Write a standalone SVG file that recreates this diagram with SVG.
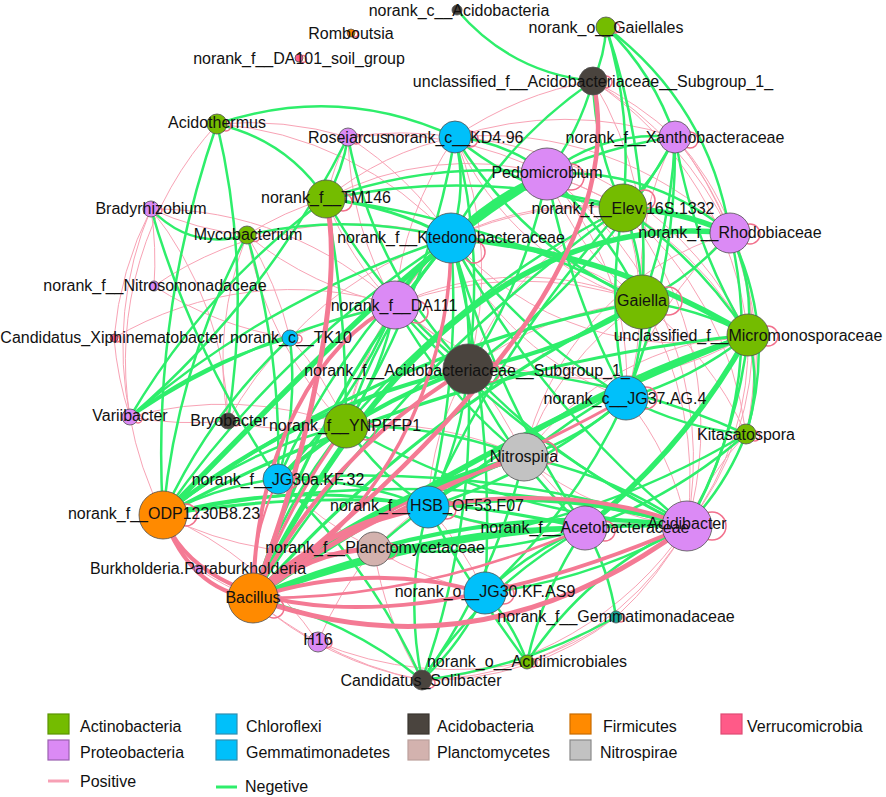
<svg xmlns="http://www.w3.org/2000/svg" width="886" height="797" viewBox="0 0 886 797">
<style>
.edges path{fill:none;stroke-linecap:round}
.p{stroke:#F8A3B5;stroke-width:1}
.g{stroke:#2EEE6B;stroke-width:2.5}
.g3{stroke:#2EEE6B;stroke-width:3.2}
.g4{stroke:#2EEE6B;stroke-width:4.2}
.g5{stroke:#2EEE6B;stroke-width:5.5}
.pt{stroke:#F47A94}
.loops circle{fill:none;stroke:#F2708C;stroke-width:1.5}
.node circle{stroke:#505050;stroke-width:0.8}
text{font-family:"Liberation Sans",Arial,sans-serif;font-size:16px;fill:#111}
.node text{text-anchor:middle}
.act{fill:#74BC00}.pro{fill:#DB8AF5}.chl{fill:#00C0FA}.aci{fill:#4A443E}.pla{fill:#D3B2AE}.fir{fill:#FF8A00}.nit{fill:#C2C2C2}.ver{fill:#FF5A88}.gem{fill:#18A99A}
.leg rect{stroke-width:1.2}
</style>
<g id="connectors" class="edges">
<g id="thin-positive">
<path class="p" d="M217,124 A350,350 0 0,0 130,417"/>
<path class="p" d="M151,209 A350,350 0 0,1 154,286"/>
<path class="p" d="M151,209 A350,350 0 0,0 114,338"/>
<path class="p" d="M151,209 A350,350 0 0,0 130,417"/>
<path class="p" d="M151,209 A350,350 0 0,1 228,421"/>
<path class="p" d="M154,286 A350,350 0 0,1 451,238"/>
<path class="p" d="M154,286 A350,350 0 0,0 290,338"/>
<path class="p" d="M114,338 A350,350 0 0,0 130,417"/>
<path class="p" d="M114,338 A350,350 0 0,1 395,305"/>
<path class="p" d="M130,417 A350,350 0 0,0 228,421"/>
<path class="p" d="M130,417 A350,350 0 0,0 163,515"/>
<path class="p" d="M228,421 A350,350 0 0,1 290,338"/>
<path class="p" d="M228,421 A350,350 0 0,1 247,235"/>
<path class="p" d="M247,235 A350,350 0 0,0 395,305"/>
<path class="p" d="M247,235 A350,350 0 0,1 290,338"/>
<path class="p" d="M290,338 A350,350 0 0,1 395,305"/>
<path class="p" d="M290,338 A350,350 0 0,1 451,238"/>
<path class="p" d="M348,137 A350,350 0 0,1 455,137"/>
<path class="p" d="M348,137 A350,350 0 0,1 451,238"/>
<path class="p" d="M348,137 A350,350 0 0,1 547,174"/>
<path class="p" d="M455,137 A350,350 0 0,0 395,305"/>
<path class="p" d="M455,137 A350,350 0 0,1 675,137"/>
<path class="p" d="M455,137 A350,350 0 0,1 593,81"/>
<path class="p" d="M455,137 A350,350 0 0,1 730,233"/>
<path class="p" d="M455,137 A350,350 0 0,1 748,335"/>
<path class="p" d="M593,81 A350,350 0 0,1 675,137"/>
<path class="p" d="M593,81 A350,350 0 0,1 730,233"/>
<path class="p" d="M593,81 A350,350 0 0,1 642,302"/>
<path class="p" d="M593,81 A350,350 0 0,1 748,335"/>
<path class="p" d="M547,174 A350,350 0 0,1 623,208"/>
<path class="p" d="M547,174 A350,350 0 0,0 395,305"/>
<path class="p" d="M547,174 A350,350 0 0,1 748,335"/>
<path class="p" d="M547,174 A350,350 0 0,1 687,526"/>
<path class="p" d="M623,208 A350,350 0 0,0 451,238"/>
<path class="p" d="M623,208 A350,350 0 0,1 746,434"/>
<path class="p" d="M623,208 A350,350 0 0,1 687,526"/>
<path class="p" d="M675,137 A350,350 0 0,1 730,233"/>
<path class="p" d="M675,137 A350,350 0 0,1 746,434"/>
<path class="p" d="M730,233 A300,300 0 0,1 746,434"/>
<path class="p" d="M730,233 A350,350 0 0,0 626,398"/>
<path class="p" d="M642,302 A350,350 0 0,1 746,434"/>
<path class="p" d="M642,302 A350,350 0 0,1 687,526"/>
<path class="p" d="M642,302 A350,350 0 0,0 395,305"/>
<path class="p" d="M748,335 A300,300 0 0,1 687,526"/>
<path class="p" d="M451,238 A350,350 0 0,0 395,305"/>
<path class="p" d="M451,238 A350,350 0 0,1 642,302"/>
<path class="p" d="M451,238 A350,350 0 0,0 346,426"/>
<path class="p" d="M395,305 A350,350 0 0,1 468,369"/>
<path class="p" d="M468,369 A350,350 0 0,1 642,302"/>
<path class="p" d="M468,369 A350,350 0 0,1 524,457"/>
<path class="p" d="M346,426 A350,350 0 0,0 278,479"/>
<path class="p" d="M346,426 A350,350 0 0,1 524,457"/>
<path class="p" d="M524,457 A350,350 0 0,1 585,528"/>
<path class="p" d="M524,457 A350,350 0 0,0 374,549"/>
<path class="p" d="M428,507 A350,350 0 0,1 485,593"/>
<path class="p" d="M585,528 A350,350 0 0,1 687,526"/>
<path class="p" d="M687,526 A350,350 0 0,1 616,617"/>
<path class="p" d="M616,617 A350,350 0 0,1 527,662"/>
<path class="p" d="M527,662 A350,350 0 0,1 422,680"/>
<path class="p" d="M422,680 A350,350 0 0,1 318,642"/>
<path class="p" d="M318,642 A350,350 0 0,1 253,598"/>
<path class="p" d="M318,642 A350,350 0 0,1 374,549"/>
<path class="p" d="M318,642 A350,350 0 0,0 527,662"/>
<path class="p" d="M616,617 A300,300 0 0,1 422,680"/>
<path class="p" d="M374,549 A350,350 0 0,0 485,593"/>
<path class="p" d="M278,479 A350,350 0 0,0 374,549"/>
<path class="p" d="M198,569 A350,350 0 0,0 253,598"/>
<path class="p" d="M163,515 A350,350 0 0,0 374,549"/>
<path class="p" d="M130,417 A350,350 0 0,1 346,426"/>
<path class="p" d="M151,209 A350,350 0 0,1 395,305"/>
<path class="p" d="M217,124 A350,350 0 0,1 451,238"/>
<path class="p" d="M247,235 A350,350 0 0,0 346,426"/>
<path class="p" d="M675,137 A300,300 0 0,1 687,526"/>
<path class="p" d="M527,662 A300,300 0 0,0 687,526"/>
<path class="p" d="M422,680 A350,350 0 0,0 687,526"/>
<path class="p" d="M253,598 A350,350 0 0,0 422,680"/>
<path class="p" d="M374,549 A350,350 0 0,0 422,680"/>
<path class="p" d="M455,137 A350,350 0 0,1 468,369"/>
<path class="p" d="M547,174 A350,350 0 0,0 451,238"/>
<path class="p" d="M348,137 A350,350 0 0,0 395,305"/>
<path class="p" d="M163,515 A350,350 0 0,1 318,642"/>
<path class="p" d="M217,124 A350,350 0 0,1 348,137"/>
<path class="p" d="M451,238 A300,300 0 0,1 623,208"/>
<path class="p" d="M451,238 A300,300 0 0,0 748,335"/>
<path class="p" d="M451,238 A300,300 0 0,0 626,398"/>
<path class="p" d="M395,305 A300,300 0 0,1 642,302"/>
<path class="p" d="M395,305 A300,300 0 0,0 748,335"/>
<path class="p" d="M326,199 A300,300 0 0,0 395,305"/>
<path class="p" d="M326,199 A300,300 0 0,1 547,174"/>
<path class="p" d="M326,199 A300,300 0 0,1 455,137"/>
<path class="p" d="M455,137 A300,300 0 0,0 642,302"/>
<path class="p" d="M547,174 A300,300 0 0,0 642,302"/>
<path class="p" d="M547,174 A300,300 0 0,1 626,398"/>
<path class="p" d="M623,208 A300,300 0 0,0 468,369"/>
<path class="p" d="M623,208 A300,300 0 0,1 626,398"/>
<path class="p" d="M675,137 A300,300 0 0,0 642,302"/>
<path class="p" d="M730,233 A300,300 0 0,0 524,457"/>
<path class="p" d="M642,302 A300,300 0 0,0 524,457"/>
<path class="p" d="M748,335 A300,300 0 0,0 524,457"/>
<path class="p" d="M626,398 A300,300 0 0,1 687,526"/>
<path class="p" d="M746,434 A300,300 0 0,0 687,526"/>
<path class="p" d="M524,457 A300,300 0 0,0 687,526"/>
<path class="p" d="M428,507 A300,300 0 0,0 585,528"/>
<path class="p" d="M468,369 A300,300 0 0,0 428,507"/>
<path class="p" d="M346,426 A300,300 0 0,1 395,305"/>
<path class="p" d="M346,426 A300,300 0 0,0 290,338"/>
<path class="p" d="M228,421 A300,300 0 0,0 346,426"/>
<path class="p" d="M247,235 A300,300 0 0,1 326,199"/>
<path class="p" d="M348,137 A300,300 0 0,0 326,199"/>
<path class="p" d="M151,209 A300,300 0 0,0 247,235"/>
</g>
<g id="negative">
<path class="g" d="M457,10 Q511,73 593,81"/>
<path class="g" d="M606,27 Q605,55 593,81"/>
<path class="g" d="M606,27 Q651,161 642,302"/>
<path class="g" d="M606,27 Q654,74 675,137"/>
<path class="g" d="M606,27 Q709,105 730,233"/>
<path class="g" d="M606,27 Q633,116 623,208"/>
<path class="g" d="M593,81 Q595,148 623,208"/>
<path class="g" d="M593,81 Q579,132 547,174"/>
<path class="g" d="M593,81 Q503,143 451,238"/>
<path class="g" d="M675,137 Q604,130 547,174"/>
<path class="g" d="M675,137 Q548,154 451,238"/>
<path class="g" d="M675,137 Q656,178 623,208"/>
<path class="g" d="M675,137 Q672,222 642,302"/>
<path class="g" d="M675,137 Q677,272 626,398"/>
<path class="g" d="M675,137 Q599,278 468,369"/>
<path class="g" d="M675,137 Q692,243 748,335"/>
<path class="g" d="M455,137 Q507,142 547,174"/>
<path class="g" d="M455,137 Q528,198 623,208"/>
<path class="g" d="M455,137 Q468,188 451,238"/>
<path class="g" d="M455,137 Q524,248 642,302"/>
<path class="g" d="M455,137 Q485,252 468,369"/>
<path class="g" d="M455,137 Q429,292 346,426"/>
<path class="g" d="M547,174 Q650,167 730,233"/>
<path class="g5" d="M163,515 C260,420 400,260 547,174"/>
<path class="g5" d="M623,208 Q679,210 730,233"/>
<path class="g5" d="M253,598 Q448,204 730,233"/>
<path class="g" d="M730,233 Q754,281 748,335"/>
<path class="g" d="M730,233 Q693,276 642,302"/>
<path class="g" d="M730,233 Q778,330 746,434"/>
<path class="g" d="M730,233 Q767,388 687,526"/>
<path class="g" d="M642,302 Q698,308 748,335"/>
<path class="g" d="M642,302 Q644,352 626,398"/>
<path class="g4" d="M642,302 Q562,353 468,369"/>
<path class="g" d="M748,335 Q762,385 746,434"/>
<path class="g" d="M748,335 Q693,379 626,398"/>
<path class="g5" d="M748,335 Q686,448 585,528"/>
<path class="g" d="M748,335 Q737,437 687,526"/>
<path class="g5" d="M253,598 Q485,437 748,335"/>
<path class="g3" d="M253,598 Q418,411 642,302"/>
<path class="g5" d="M253,598 Q412,530 585,528"/>
<path class="g5" d="M253,598 Q372,495 524,457"/>
<path class="g3" d="M253,598 Q316,398 451,238"/>
<path class="g" d="M253,598 Q282,503 346,426"/>
<path class="g3" d="M163,515 Q295,479 428,507"/>
<path class="g" d="M163,515 Q217,486 278,479"/>
<path class="g" d="M163,515 Q244,449 346,426"/>
<path class="g4" d="M163,515 Q298,405 468,369"/>
<path class="g3" d="M163,515 Q377,351 642,302"/>
<path class="g3" d="M163,515 Q375,479 585,528"/>
<path class="g" d="M163,515 Q209,414 290,338"/>
<path class="g" d="M163,515 Q151,314 217,124"/>
<path class="g" d="M163,515 Q279,348 451,238"/>
<path class="g" d="M247,235 Q177,367 163,515"/>
<path class="g" d="M247,235 Q282,355 278,479"/>
<path class="g" d="M247,235 Q349,212 451,238"/>
<path class="g" d="M151,209 Q193,354 278,479"/>
<path class="g" d="M130,417 Q251,335 395,305"/>
<path class="g" d="M130,417 Q202,362 290,338"/>
<path class="g" d="M130,417 Q273,295 451,238"/>
<path class="g" d="M130,417 Q206,288 326,199"/>
<path class="g" d="M290,338 Q298,410 278,479"/>
<path class="g" d="M348,137 Q343,170 326,199"/>
<path class="g" d="M348,137 Q267,299 130,417"/>
<path class="g" d="M348,137 Q373,271 468,369"/>
<path class="g" d="M217,124 Q287,140 326,199"/>
<path class="g" d="M217,124 Q339,83 455,137"/>
<path class="g" d="M217,124 Q252,271 228,421"/>
<path class="g" d="M151,209 Q191,251 247,235"/>
<path class="g3" d="M326,199 Q392,206 451,238"/>
<path class="g" d="M326,199 Q476,168 623,208"/>
<path class="g" d="M326,199 Q434,160 547,174"/>
<path class="g" d="M326,199 Q380,298 468,369"/>
<path class="g" d="M326,199 Q347,312 346,426"/>
<path class="g" d="M326,199 Q494,219 642,302"/>
<path class="g" d="M395,305 Q416,266 451,238"/>
<path class="g" d="M395,305 Q383,370 346,426"/>
<path class="g" d="M395,305 Q444,394 524,457"/>
<path class="g" d="M395,305 Q519,445 687,526"/>
<path class="g" d="M395,305 Q354,404 278,479"/>
<path class="g" d="M451,238 Q473,302 468,369"/>
<path class="g" d="M451,238 Q461,374 428,507"/>
<path class="g" d="M451,238 Q540,406 687,526"/>
<path class="g" d="M451,238 Q523,336 626,398"/>
<path class="g5" d="M451,238 Q611,251 748,335"/>
<path class="g" d="M451,238 Q495,394 585,528"/>
<path class="g" d="M451,238 Q496,413 485,593"/>
<path class="g" d="M468,369 Q511,460 585,528"/>
<path class="g" d="M468,369 Q562,469 687,526"/>
<path class="g" d="M468,369 Q462,442 428,507"/>
<path class="g" d="M468,369 Q614,374 746,434"/>
<path class="g4" d="M278,479 Q362,405 468,369"/>
<path class="g" d="M468,369 Q476,529 422,680"/>
<path class="g" d="M626,398 Q581,438 524,457"/>
<path class="g" d="M626,398 Q538,472 428,507"/>
<path class="g" d="M626,398 Q682,428 746,434"/>
<path class="g" d="M626,398 Q575,510 485,593"/>
<path class="g" d="M746,434 Q675,497 585,528"/>
<path class="g" d="M746,434 Q726,486 687,526"/>
<path class="g" d="M746,434 Q574,536 374,549"/>
<path class="g" d="M346,426 Q380,322 451,238"/>
<path class="g" d="M346,426 Q463,289 623,208"/>
<path class="g" d="M346,426 Q505,517 687,526"/>
<path class="g" d="M346,426 Q438,424 524,457"/>
<path class="g" d="M346,426 Q379,475 428,507"/>
<path class="g5" d="M428,507 Q560,485 687,526"/>
<path class="g" d="M428,507 Q571,389 748,335"/>
<path class="g" d="M428,507 Q502,342 623,208"/>
<path class="g" d="M428,507 Q471,472 524,457"/>
<path class="g" d="M428,507 Q504,536 585,528"/>
<path class="g4" d="M374,549 Q528,506 687,526"/>
<path class="g" d="M374,549 Q540,405 748,335"/>
<path class="g" d="M374,549 Q477,560 585,528"/>
<path class="g" d="M485,593 Q529,551 585,528"/>
<path class="g" d="M485,593 Q593,580 687,526"/>
<path class="g" d="M485,593 Q462,643 422,680"/>
<path class="g" d="M422,680 Q485,584 585,528"/>
<path class="g" d="M422,680 Q525,668 616,617"/>
<path class="g" d="M422,680 Q404,593 428,507"/>
<path class="g" d="M422,680 Q347,619 253,598"/>
<path class="g" d="M422,680 Q370,565 278,479"/>
<path class="g" d="M527,662 Q543,589 585,528"/>
<path class="g" d="M527,662 Q587,570 687,526"/>
<path class="g" d="M527,662 Q513,623 485,593"/>
<path class="g" d="M527,662 Q462,575 428,507"/>
<path class="g" d="M616,617 Q609,569 585,528"/>
<path class="g" d="M278,479 Q340,341 451,238"/>
<path class="g" d="M278,479 Q487,462 687,526"/>
<path class="g" d="M278,479 Q356,478 428,507"/>
<path class="g4" d="M253,598 Q463,519 687,526"/>
<path class="g" d="M253,598 Q399,366 623,208"/>
<path class="g3" d="M163,515 Q438,367 748,335"/>
<path class="g" d="M163,515 Q426,458 687,526"/>
<path class="g" d="M524,457 Q612,475 687,526"/>
<path class="g" d="M524,457 Q624,374 748,335"/>
<path class="g" d="M524,457 Q495,579 422,680"/>
<path class="g" d="M623,208 Q642,253 642,302"/>
<path class="g" d="M623,208 Q606,303 626,398"/>
<path class="g" d="M623,208 Q698,259 748,335"/>
<path class="g" d="M547,174 Q607,229 642,302"/>
<path class="g" d="M547,174 Q569,292 626,398"/>
<path class="g" d="M547,174 Q527,279 468,369"/>
<path class="g5" d="M451,238 Q493,196 547,174"/>
</g>
<g id="positive">
<path class="pt" stroke-width="4.5" d="M593,81 Q640,290 253,598"/>
<path class="pt" stroke-width="5" d="M326,199 C345,280 310,450 253,598"/>
<path class="pt" stroke-width="3.5" d="M451,238 C452,380 380,520 253,598"/>
<path class="pt" stroke-width="4" d="M395,305 C320,340 255,450 253,598"/>
<path class="pt" stroke-width="5" d="M253,598 Q480,680 687,526"/>
<path class="pt" stroke-width="4" d="M163,515 C200,620 400,650 687,526"/>
<path class="pt" stroke-width="4" d="M253,598 C330,500 550,470 687,526"/>
<path class="pt" stroke-width="3" d="M253,598 C350,520 500,470 626,398"/>
<path class="pt" stroke-width="5" d="M253,598 Q330,520 428,507"/>
<path class="pt" stroke-width="5" d="M253,598 Q310,550 374,549"/>
<path class="pt" stroke-width="4" d="M253,598 Q330,450 468,369"/>
<path class="pt" stroke-width="4" d="M253,598 Q370,560 485,593"/>
<path class="pt" stroke-width="4" d="M163,515 Q190,590 253,598"/>
<path class="pt" stroke-width="2" d="M278,479 Q250,540 253,598"/>
<path class="pt" stroke-width="3" d="M346,426 Q290,500 253,598"/>
<path class="pt" stroke-width="3" d="M524,457 Q380,500 253,598"/>
<path class="pt" stroke-width="2.5" d="M585,528 Q420,600 253,598"/>
</g>
<g id="self-loops" class="loops">
<circle cx="355" cy="34" r="3"/><circle cx="303" cy="59" r="3.5"/><circle cx="615" cy="28" r="5"/>
<circle cx="606" cy="82" r="6"/><circle cx="226" cy="126" r="5"/><circle cx="356" cy="139" r="5"/>
<circle cx="470" cy="139" r="8"/><circle cx="690" cy="140" r="8"/><circle cx="571" cy="177" r="13"/>
<circle cx="343" cy="202" r="9"/><circle cx="645" cy="200" r="10"/><circle cx="158" cy="210" r="4"/>
<circle cx="255" cy="237" r="4.5"/><circle cx="474" cy="252" r="11"/><circle cx="750" cy="234" r="10"/>
<circle cx="668" cy="301" r="14"/><circle cx="768" cy="336" r="10"/><circle cx="417" cy="312" r="11"/>
<circle cx="117" cy="339" r="3"/><circle cx="298" cy="339" r="4"/><circle cx="490" cy="372" r="10"/>
<circle cx="646" cy="398" r="11"/><circle cx="138" cy="419" r="4"/><circle cx="236" cy="422" r="4"/>
<circle cx="366" cy="431" r="9"/><circle cx="755" cy="436" r="5"/><circle cx="546" cy="453" r="11"/>
<circle cx="291" cy="481" r="7"/><circle cx="186" cy="515" r="11"/><circle cx="447" cy="510" r="9"/>
<circle cx="605" cy="531" r="10"/><circle cx="712" cy="526" r="14"/><circle cx="389" cy="551" r="8"/>
<circle cx="274" cy="608" r="10"/><circle cx="504" cy="594" r="10"/><circle cx="621" cy="618" r="4"/>
<circle cx="327" cy="643" r="5"/><circle cx="533" cy="663" r="4"/><circle cx="430" cy="683" r="5"/>
</g>
</g>
<g id="nodes">
<g id="n-norank_c__Acidobacteria" class="node"><circle class="aci" cx="457" cy="10" r="5"/><text x="459" y="16">norank_c__Acidobacteria</text></g>
<g id="n-Romboutsia" class="node"><circle class="fir" cx="351" cy="33" r="4"/><text x="351" y="39">Romboutsia</text></g>
<g id="n-DA101" class="node"><circle class="ver" cx="299" cy="58" r="4"/><text x="299" y="64">norank_f__DA101_soil_group</text></g>
<g id="n-Gaiellales" class="node"><circle class="act" cx="606" cy="27" r="10"/><text x="606" y="33">norank_o__Gaiellales</text></g>
<g id="n-uncl_Subgroup_1" class="node"><circle class="aci" cx="593" cy="81" r="14"/><text x="593" y="87">unclassified_f__Acidobacteriaceae__Subgroup_1_</text></g>
<g id="n-Acidothermus" class="node"><circle class="act" cx="217" cy="124" r="10"/><text x="217" y="128">Acidothermus</text></g>
<g id="n-Roseiarcus" class="node"><circle class="pro" cx="348" cy="137" r="9"/><text x="348" y="143">Roseiarcus</text></g>
<g id="n-KD4.96" class="node"><circle class="chl" cx="455" cy="137" r="16"/><text x="455" y="143">norank_c__KD4.96</text></g>
<g id="n-Xanthobacteraceae" class="node"><circle class="pro" cx="675" cy="137" r="16"/><text x="675" y="143">norank_f__Xanthobacteraceae</text></g>
<g id="n-Pedomicrobium" class="node"><circle class="pro" cx="547" cy="174" r="26"/><text x="547" y="178">Pedomicrobium</text></g>
<g id="n-TM146" class="node"><circle class="act" cx="326" cy="199" r="19"/><text x="326" y="203">norank_f__TM146</text></g>
<g id="n-Elev.16S.1332" class="node"><circle class="act" cx="623" cy="208" r="24"/><text x="623" y="214">norank_f__Elev.16S.1332</text></g>
<g id="n-Bradyrhizobium" class="node"><circle class="pro" cx="151" cy="209" r="8"/><text x="151" y="214">Bradyrhizobium</text></g>
<g id="n-Mycobacterium" class="node"><circle class="act" cx="247" cy="235" r="9"/><text x="248" y="240">Mycobacterium</text></g>
<g id="n-Ktedonobacteraceae" class="node"><circle class="chl" cx="451" cy="238" r="25"/><text x="451" y="243">norank_f__Ktedonobacteraceae</text></g>
<g id="n-Rhodobiaceae" class="node"><circle class="pro" cx="730" cy="233" r="20"/><text x="730" y="238">norank_f__Rhodobiaceae</text></g>
<g id="n-Nitrosomonadaceae" class="node"><circle class="pro" cx="154" cy="286" r="5"/><text x="155" y="291">norank_f__Nitrosomonadaceae</text></g>
<g id="n-Gaiella" class="node"><circle class="act" cx="642" cy="302" r="27"/><text x="642" y="306">Gaiella</text></g>
<g id="n-Micromonosporaceae" class="node"><circle class="act" cx="748" cy="335" r="21"/><text x="748" y="341">unclassified_f__Micromonosporaceae</text></g>
<g id="n-DA111" class="node"><circle class="pro" cx="395" cy="305" r="24"/><text x="394" y="311">norank_f__DA111</text></g>
<g id="n-Xiphinematobacter" class="node"><circle class="ver" cx="114" cy="338" r="4"/><text x="112" y="343">Candidatus_Xiphinematobacter</text></g>
<g id="n-TK10" class="node"><circle class="chl" cx="290" cy="338" r="8"/><text x="291" y="343">norank_c__TK10</text></g>
<g id="n-JG37.AG.4" class="node"><circle class="chl" cx="626" cy="398" r="22"/><text x="625" y="404">norank_c__JG37.AG.4</text></g>
<g id="n-Subgroup_1" class="node"><circle class="aci" cx="468" cy="369" r="25"/><text x="467" y="376">norank_f__Acidobacteriaceae__Subgroup_1_</text></g>
<g id="n-Variibacter" class="node"><circle class="pro" cx="130" cy="417" r="8"/><text x="130" y="421">Variibacter</text></g>
<g id="n-Bryobacter" class="node"><circle class="aci" cx="228" cy="421" r="8"/><text x="229" y="426">Bryobacter</text></g>
<g id="n-YNPFFP1" class="node"><circle class="act" cx="346" cy="426" r="22"/><text x="345" y="431">norank_f__YNPFFP1</text></g>
<g id="n-Kitasatospora" class="node"><circle class="act" cx="746" cy="434" r="10"/><text x="746" y="440">Kitasatospora</text></g>
<g id="n-Nitrospira" class="node"><circle class="nit" cx="524" cy="457" r="24"/><text x="524" y="462">Nitrospira</text></g>
<g id="n-JG30a.KF.32" class="node"><circle class="chl" cx="278" cy="479" r="15"/><text x="278" y="485">norank_f__JG30a.KF.32</text></g>
<g id="n-ODP1230B8.23" class="node"><circle class="fir" cx="163" cy="515" r="24"/><text x="164" y="519">norank_f__ODP1230B8.23</text></g>
<g id="n-HSB_OF53.F07" class="node"><circle class="chl" cx="428" cy="507" r="21"/><text x="427" y="511">norank_f__HSB_OF53.F07</text></g>
<g id="n-Acidibacter" class="node"><circle class="pro" cx="687" cy="526" r="25"/><text x="687" y="529">Acidibacter</text></g>
<g id="n-Acetobacteraceae" class="node"><circle class="pro" cx="585" cy="528" r="22"/><text x="585" y="533">norank_f__Acetobacteraceae</text></g>
<g id="n-Planctomycetaceae" class="node"><circle class="pla" cx="374" cy="549" r="17"/><text x="375" y="553">norank_f__Planctomycetaceae</text></g>
<g id="n-Burkholderia" class="node"><circle class="pro" cx="198" cy="569" r="4"/><text x="198" y="574">Burkholderia.Paraburkholderia</text></g>
<g id="n-Bacillus" class="node"><circle class="fir" cx="253" cy="598" r="25"/><text x="253" y="603">Bacillus</text></g>
<g id="n-JG30.KF.AS9" class="node"><circle class="chl" cx="485" cy="593" r="21"/><text x="485" y="597">norank_o__JG30.KF.AS9</text></g>
<g id="n-Gemmatimonadaceae" class="node"><circle class="gem" cx="616" cy="617" r="6"/><text x="616" y="622">norank_f__Gemmatimonadaceae</text></g>
<g id="n-H16" class="node"><circle class="pro" cx="318" cy="642" r="10"/><text x="318" y="645">H16</text></g>
<g id="n-Solibacter" class="node"><circle class="aci" cx="422" cy="680" r="10"/><text x="421" y="686">Candidatus_Solibacter</text></g>
<g id="n-Acidimicrobiales" class="node"><circle class="act" cx="527" cy="662" r="7"/><text x="527" y="667">norank_o__Acidimicrobiales</text></g>
</g>
<g id="legend" class="leg">
<rect x="48" y="714" width="21" height="20" fill="#74BC00" stroke="#5a9400"/><text x="80" y="732">Actinobacteria</text>
<rect x="48" y="740" width="21" height="20" fill="#DB8AF5" stroke="#9a60b0"/><text x="80" y="758">Proteobacteria</text>
<line x1="48" y1="781" x2="69" y2="781" stroke="#F7A0B5" stroke-width="3"/><text x="80" y="787">Positive</text>
<rect x="216" y="714" width="21" height="20" fill="#00C0FA" stroke="#2f8eb0"/><text x="246" y="732">Chloroflexi</text>
<rect x="216" y="740" width="21" height="20" fill="#00C0FA" stroke="#2f8eb0"/><text x="246" y="758">Gemmatimonadetes</text>
<line x1="216" y1="787" x2="237" y2="787" stroke="#2EEE6B" stroke-width="3"/><text x="245" y="792">Negetive</text>
<rect x="408" y="714" width="21" height="20" fill="#4A443E" stroke="#3a3530"/><text x="437" y="732">Acidobacteria</text>
<rect x="408" y="740" width="21" height="20" fill="#D3B2AE" stroke="#bca09c"/><text x="437" y="758">Planctomycetes</text>
<rect x="570" y="714" width="21" height="20" fill="#FF8A00" stroke="#c86c00"/><text x="603" y="732">Firmicutes</text>
<rect x="570" y="740" width="21" height="20" fill="#C2C2C2" stroke="#8a8a8a"/><text x="600" y="758">Nitrospirae</text>
<rect x="721" y="714" width="21" height="20" fill="#FF5A88" stroke="#e04a74"/><text x="747" y="732">Verrucomicrobia</text>
</g>
</svg>
